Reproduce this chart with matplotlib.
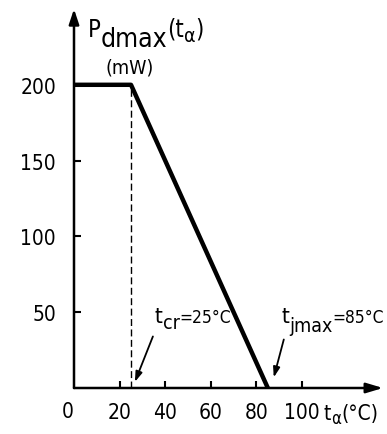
import matplotlib
matplotlib.use('Agg')
import matplotlib.pyplot as plt
from matplotlib.transforms import IdentityTransform

# derating curve: Pdmax vs ambient temperature
temp = [0, 25, 85]
pdmax = [200, 200, 0]
xticks = [20, 40, 60, 80, 100]
yticks = [50, 100, 150, 200]
t_cr = 25
t_jmax = 85

plt.rcParams['font.family'] = ['DejaVu Sans']
plt.rcParams['font.stretch'] = 'condensed'

fig = plt.figure(figsize=(3.87, 4.35), dpi=100)
ax = fig.add_axes([74/387, 46/435, 309/387, 379/435])
ax.set_xlim(0, 135.5)
ax.set_ylim(0, 250)
for s in ax.spines.values():
    s.set_visible(False)
renderer = fig.canvas.get_renderer()


def chain(x, y, parts):
    # write text pieces one after another, with own size and vertical shift (px)
    px, py = ax.transData.transform((x, y))
    for s, size, dy in parts:
        t = fig.text(px, py + dy, s, fontsize=size, va='baseline', ha='left',
                     transform=IdentityTransform())
        px = t.get_window_extent(renderer).x1


# axes with arrows
ax.annotate('', xy=(1, 0), xytext=(0, 0), xycoords='axes fraction',
            arrowprops=dict(arrowstyle='-|>,head_length=1.0,head_width=0.3', lw=1.8, color='black',
                            shrinkA=0, shrinkB=0))
ax.annotate('', xy=(0, 1), xytext=(0, 0), xycoords='axes fraction',
            arrowprops=dict(arrowstyle='-|>,head_length=0.9,head_width=0.3', lw=1.8, color='black',
                            shrinkA=0, shrinkB=0))

ax.set_xticks(xticks)
ax.set_yticks(yticks)
ax.tick_params(axis='both', direction='in', length=5, width=1.5, labelsize=15)
ax.tick_params(axis='x', pad=10)
ax.tick_params(axis='y', pad=13)
ax.text(-2.6, -15, '0', ha='center', va='center', fontsize=15)

# curve
ax.plot(temp, pdmax, color='black', lw=3.2, solid_capstyle='butt', clip_on=False, zorder=3)
ax.plot([t_cr, t_cr], [0, 200], color='black', lw=1.0, ls=(0, (5, 2.5)))

# labels
chain(6, 232.5, [('P', 17, 0), ('dmax', 19, -10), ('(t', 17, 0), ('α', 14, -5), (')', 17, 0)])
ax.text(24.5, 212, '(mW)', fontsize=14, va='center', ha='center')
chain(109.5, -20.5, [('t', 15, 0), ('α', 12, -4), ('(°C)', 15, 0)])

chain(35.5, 43.6, [('t', 16, 0), ('cr', 14, -6), ('=25°C', 12.5, 0)])
ax.annotate('', xy=(26.7, 4), xytext=(34.6, 34),
            arrowprops=dict(arrowstyle='-|>,head_length=0.6,head_width=0.2', lw=1.3, color='black',
                            shrinkA=0, shrinkB=0))
chain(91, 43.6, [('t', 16, 0), ('jmax', 14, -9), ('=85°C', 12.5, 0)])
ax.annotate('', xy=(87.6, 7), xytext=(92, 32),
            arrowprops=dict(arrowstyle='-|>,head_length=0.6,head_width=0.2', lw=1.3, color='black',
                            shrinkA=0, shrinkB=0))

fig.savefig('out.png', dpi=100)
